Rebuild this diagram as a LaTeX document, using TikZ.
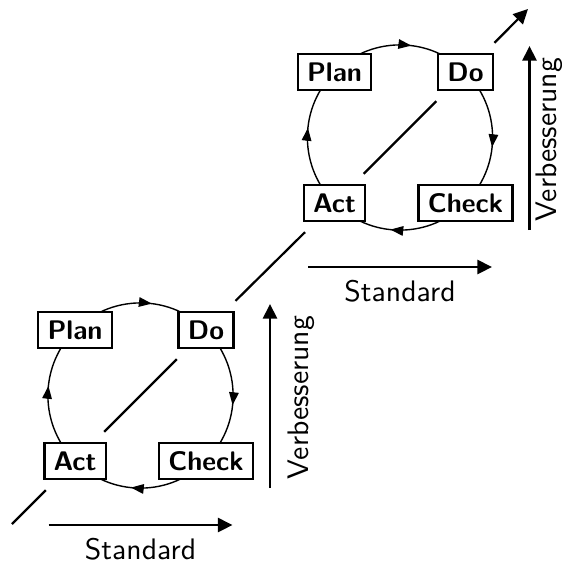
\documentclass[tikz,border=0pt]{standalone}
\usetikzlibrary{arrows.meta}
\begin{document}
\begin{tikzpicture}[x=0.357pt, y=0.357pt, font=\sffamily\fontsize{10.6}{12.7}\selectfont,
  phase/.style={draw, line width=0.85pt, fill=white,
    font=\sffamily\bfseries\fontsize{9.6}{11.5}\selectfont,
    inner xsep=3.3pt, inner ysep=0pt, minimum height=12.9pt},
  axislabel/.style={inner sep=0pt},
  ring/.style={line width=0.5pt},
  ringtip/.style={line width=0.5pt, -{Triangle[length=4.6pt,width=3.4pt]}},
  diag/.style={line width=0.8pt},
  bigarrow/.style={line width=0.85pt, -{Triangle[length=5.2pt,width=5pt]}}]
\useasboundingbox (0,0) rectangle (562,561);

% two PDCA cycles, lower left and upper right
\foreach \c/\cx/\cy/\vx in {1/140.5/165.5/146.5, 2/400/423.5/135}{
  \draw[ring] (\cx,\cy) circle[radius=92.6];
  \node[phase] (plan\c)  at (\cx-65.5,\cy+65.5) {Plan};
  \node[phase] (do\c)    at (\cx+65.5,\cy+65.5) {Do};
  \node[phase] (act\c)   at (\cx-65.5,\cy-65.5) {Act};
  \node[phase] (check\c) at (\cx+65.5,\cy-65.5) {Check};
  % clockwise direction marks on the ring
  \draw[ringtip] (\cx,\cy) ++(91:92.6)  arc[start angle=91,  end angle=83,  radius=92.6];
  \draw[ringtip] (\cx,\cy) ++(2:92.6)   arc[start angle=2,   end angle=-6,  radius=92.6];
  \draw[ringtip] (\cx,\cy) ++(272:92.6) arc[start angle=272, end angle=264, radius=92.6];
  \draw[ringtip] (\cx,\cy) ++(182:92.6) arc[start angle=182, end angle=174, radius=92.6];
  % axes: Standard (horizontal) and Verbesserung (vertical)
  \coordinate (s\c a) at (\cx-92,\cy-129.5);
  \coordinate (s\c b) at (\cx+92,\cy-129.5);
  \draw[bigarrow] (s\c a) -- (s\c b);
  \node[axislabel, anchor=north] (std\c) at (\cx,\cy-142) {Standard};
  \coordinate (v\c a) at (\cx+129.5,\cy-92.5);
  \coordinate (v\c b) at (\cx+129.5,\cy+91.5);
  \draw[bigarrow] (v\c a) -- (v\c b);
  \node[axislabel, rotate=90, anchor=north] (imp\c) at (\cx+\vx,\cy-2) {Verbesserung};
}

% diagonal staircase line through both cycles
\coordinate (start) at (12,37);
\coordinate (tip) at (528,552);
\draw[diag, shorten >=5pt] (start) -- (act1);
\draw[diag, shorten <=5pt, shorten >=5pt] (act1) -- (do1);
\draw[diag, shorten <=5pt, shorten >=5pt] (do1) -- (act2);
\draw[diag, shorten <=5pt, shorten >=5pt] (act2) -- (do2);
\draw[diag, shorten <=5pt, -{Triangle[length=5.2pt,width=5pt]}] (do2) -- (tip);
\end{tikzpicture}
\end{document}
